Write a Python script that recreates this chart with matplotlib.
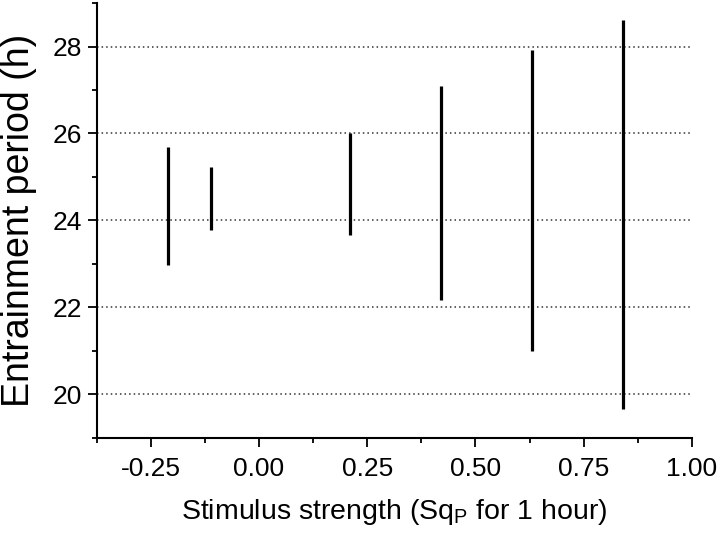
import matplotlib
matplotlib.use("Agg")
import matplotlib.pyplot as plt
from matplotlib.ticker import MultipleLocator

plt.rcParams['font.family'] = ['Liberation Sans', 'DejaVu Sans']
plt.rcParams['mathtext.fontset'] = 'custom'
plt.rcParams['mathtext.rm'] = 'Liberation Sans'

# stimulus strength and entrainment range (low, high)
strength = [-0.21, -0.11, 0.21, 0.42, 0.63, 0.84]
period_low = [22.98, 23.77, 23.67, 22.18, 20.99, 19.67]
period_high = [25.70, 25.22, 26.02, 27.10, 27.91, 28.62]

xticks = [-0.25, 0.00, 0.25, 0.50, 0.75, 1.00]
xticklabels = ['-0.25', '0.00', '0.25', '0.50', '0.75', '1.00']
yticks = [20, 22, 24, 26, 28]

fig = plt.figure(figsize=(7.2, 5.38), dpi=100)
ax = fig.add_axes([0.1343, 0.186, 0.8267, 0.8084])

for y in yticks:
    ax.axhline(y, color='#333333', lw=1.1, ls=(0, (1, 2)), zorder=1)

ax.vlines(strength, period_low, period_high, color='black', lw=2.3, zorder=3)

ax.set_xlim(-0.375, 1.0)
ax.set_ylim(19, 29)
ax.set_xticks(xticks)
ax.set_xticklabels(xticklabels)
ax.set_yticks(yticks)
ax.xaxis.set_minor_locator(MultipleLocator(0.125))
ax.yaxis.set_minor_locator(MultipleLocator(1))

ax.spines['top'].set_visible(False)
ax.spines['right'].set_visible(False)
ax.spines['left'].set_linewidth(1.5)
ax.spines['bottom'].set_linewidth(1.5)
ax.tick_params(which='major', direction='out', length=6.5, width=1.3, labelsize=19)
ax.tick_params(axis='x', which='major', pad=7)
ax.tick_params(axis='y', which='major', pad=4)
ax.tick_params(which='minor', direction='out', length=3.5, width=1.3)

ax.set_xlabel(r'Stimulus strength (Sq$_\mathrm{P}$ for 1 hour)', fontsize=20.5, labelpad=12)
ax.set_ylabel('Entrainment period (h)', fontsize=27, labelpad=11)

fig.savefig('out.png', dpi=100)
